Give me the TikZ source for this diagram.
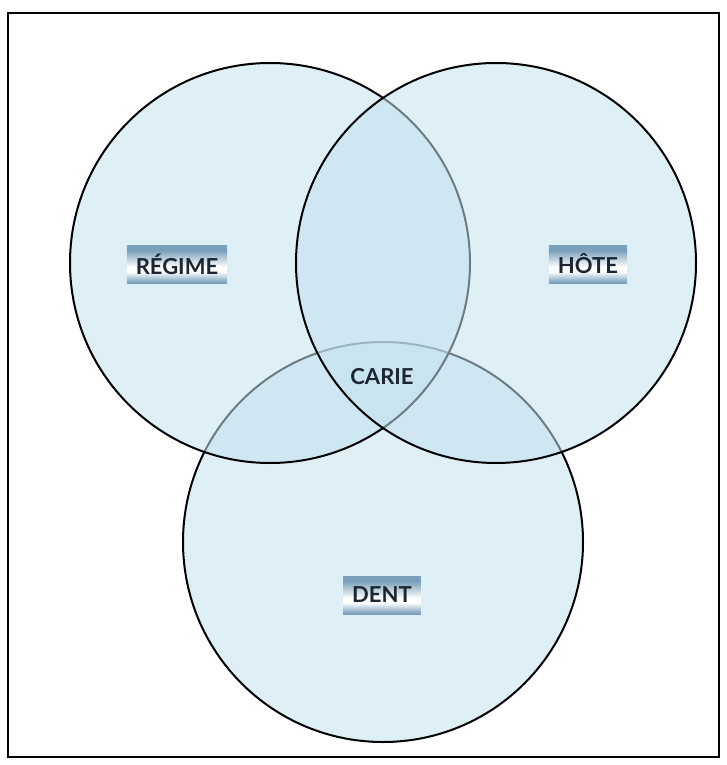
\documentclass[tikz,border=0pt]{standalone}
\usepackage{fontspec}
\setmainfont{Lato}
\definecolor{tagblue}{RGB}{122,160,188}
\definecolor{tagink}{RGB}{28,38,48}
\definecolor{setfill}{RGB}{196,226,240}
% TikZ fits the 25bp--75bp band of a shading onto the node
\pgfdeclareverticalshading{tagshade}{100bp}{%
  color(0bp)=(tagblue); color(26bp)=(tagblue); color(40bp)=(white);
  color(46bp)=(white); color(68bp)=(tagblue); color(100bp)=(tagblue)}
\begin{document}
\begin{tikzpicture}[x=1pt,y=-1pt,
  setdisc/.style={circle, draw=black, line width=2pt, inner sep=0pt,
    minimum size=400pt, fill=setfill, fill opacity=0.55},
  tagbox/.style={shading=tagshade, shade,
    inner xsep=9pt, minimum height=38pt, text=tagink,
    font=\bfseries\fontsize{22}{24}\selectfont},
  plainlabel/.style={text=tagink, font=\bfseries\fontsize{22}{24}\selectfont}
]
\useasboundingbox (0,0) rectangle (727,765);
\fill[white] (0,0) rectangle (727,765);
% outer frame
\draw[line width=2.2pt] (8,13) rectangle (719,757);

% the three sets, lower one first so the later fills tone down its outline
\node[setdisc] (dent)   at (383,542) {};
\node[setdisc] (regime) at (270,263) {};
\node[setdisc] (hote)   at (496,263) {};

% labels
\node[tagbox] (lregime) at (177,264) {RÉGIME};
\node[tagbox] (lhote)   at (588,264) {HÔTE};
\node[tagbox] (ldent)   at (382,595) {DENT};
\node[plainlabel] (lcarie) at (382,377) {CARIE};
\end{tikzpicture}
\end{document}
